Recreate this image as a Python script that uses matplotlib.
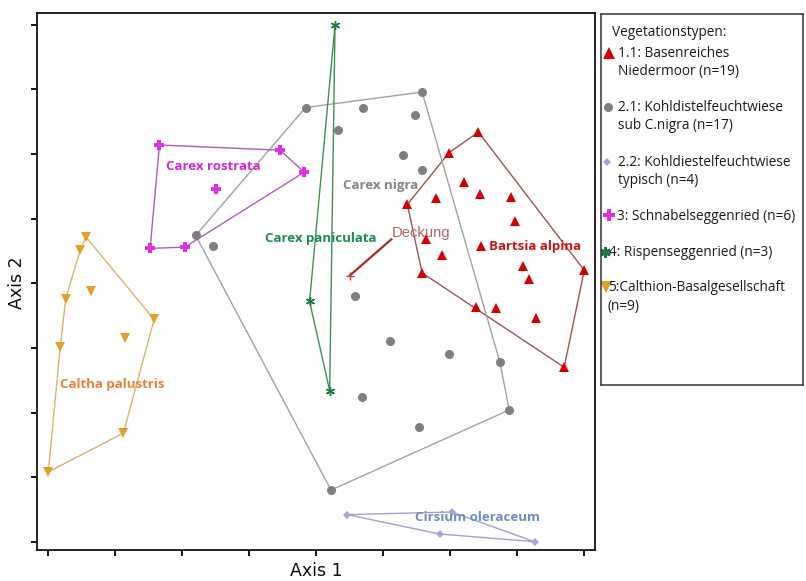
import numpy as np
import matplotlib
matplotlib.use("Agg")
import matplotlib.pyplot as plt

# Ordination scores per vegetation type (Axis 1, Axis 2)
basenreich_x = [1.21, 0.99, 1.10, 0.89, 1.22, 1.45, 0.68, 1.48, 0.82, 0.94,
                1.23, 1.54, 2.00, 1.59, 0.79, 1.19, 1.34, 1.64, 1.85]
basenreich_y = [1.17, 1.01, 0.78, 0.66, 0.69, 0.67, 0.61, 0.48, 0.34, 0.22,
                0.29, 0.13, 0.10, 0.03, 0.08, -0.18, -0.19, -0.27, -0.65]

nigra_x = [-0.08, -0.90, -0.77, 0.35, 0.79, 0.74, 0.16, 0.65, 0.79, 0.29,
           0.55, 0.99, 1.37, 0.34, 1.44, 0.77, 0.11]
nigra_y = [1.36, 0.37, 0.29, 1.36, 1.48, 1.30, 1.19, 0.99, 0.88, -0.10,
           -0.45, -0.55, -0.61, -0.88, -0.98, -1.11, -1.60]

typisch_x = [0.23, 1.01, 0.92, 1.63]
typisch_y = [-1.79, -1.77, -1.94, -2.00]

schnabel_x = [-1.17, -0.27, -0.09, -0.75, -1.24, -0.98]
schnabel_y = [1.07, 1.03, 0.86, 0.73, 0.27, 0.28]

rispen_x = [0.14, -0.05, 0.10]
rispen_y = [2.00, -0.14, -0.83]

calthion_x = [-1.72, -1.76, -1.87, -1.68, -1.21, -1.91, -1.43, -1.44, -2.00]
calthion_y = [0.36, 0.26, -0.12, -0.06, -0.28, -0.49, -0.42, -1.16, -1.46]

# Fitted environmental vector
deckung_start = (0.25, 0.06)
deckung_end = (0.56, 0.34)

legend_entries = [
    "1.1: Basenreiches\nNiedermoor (n=19)",
    "2.1: Kohldistelfeuchtwiese\nsub C.nigra (n=17)",
    "2.2: Kohldiestelfeuchtwiese\ntypisch (n=4)",
    "3: Schnabelseggenried (n=6)",
    "4: Rispenseggenried (n=3)",
    "5:Calthion-Basalgesellschaft\n(n=9)",
]
species_labels = ["Bartsia alpina", "Carex nigra", "Cirsium oleraceum",
                  "Carex rostrata", "Carex paniculata", "Caltha palustris"]


def convex_hull(xs, ys):
    pts = sorted(set(zip(xs, ys)))
    if len(pts) < 3:
        return pts

    def cross(o, a, b):
        return (a[0] - o[0]) * (b[1] - o[1]) - (a[1] - o[1]) * (b[0] - o[0])

    lower, upper = [], []
    for p in pts:
        while len(lower) >= 2 and cross(lower[-2], lower[-1], p) <= 0:
            lower.pop()
        lower.append(p)
    for p in reversed(pts):
        while len(upper) >= 2 and cross(upper[-2], upper[-1], p) <= 0:
            upper.pop()
        upper.append(p)
    hull = lower[:-1] + upper[:-1]
    return hull + [hull[0]]


groups = [
    dict(x=basenreich_x, y=basenreich_y, marker="^", ms=7.5, mc="#D40000",
         lc="#A3514E", mew=0),
    dict(x=nigra_x, y=nigra_y, marker="o", ms=6.5, mc="#7F7F7F",
         lc="#A2A2A2", mew=0),
    dict(x=typisch_x, y=typisch_y, marker="D", ms=4.5, mc="#A3A3E6",
         lc="#A0A0D4", mew=0),
    dict(x=schnabel_x, y=schnabel_y, marker="P", ms=7, mc="#E22DE2",
         lc="#B45ABC", mew=0),
    dict(x=rispen_x, y=rispen_y, marker=(6, 2, 0), ms=6.5, mc="#1B7A3B",
         lc="#3F8F55", mew=1.0),
    dict(x=calthion_x, y=calthion_y, marker="v", ms=7.5, mc="#E2A024",
         lc="#D8B46C", mew=0),
]

label_style = [
    dict(pos=(1.29, 0.26), color="#CC1414"),
    dict(pos=(0.20, 0.73), color="#858585"),
    dict(pos=(0.74, -1.84), color="#6F8CC4"),
    dict(pos=(-1.12, 0.88), color="#D626D6"),
    dict(pos=(-0.38, 0.32), color="#1E8C4E"),
    dict(pos=(-1.91, -0.81), color="#E8823A"),
]

W, H = 806, 581
fig = plt.figure(figsize=(W / 100, H / 100), dpi=100)
fig.patch.set_facecolor("white")

ax_l, ax_r, ax_t, ax_b = 37, 595, 12.7, 550
ax = fig.add_axes([ax_l / W, (H - ax_b) / H, (ax_r - ax_l) / W, (ax_b - ax_t) / H])
ax.set_xlim(-2.084, 2.080)
ax.set_ylim(-2.064, 2.094)

for g in groups:
    hull = convex_hull(g["x"], g["y"])
    hx, hy = zip(*hull)
    ax.plot(hx, hy, color=g["lc"], lw=1.0, zorder=2)
for g in groups:
    ax.plot(g["x"], g["y"], linestyle="none", marker=g["marker"],
            ms=g["ms"], color=g["mc"], mec=g["mc"], mew=g["mew"], zorder=3)

ax.plot([deckung_start[0], deckung_end[0]], [deckung_start[1], deckung_end[1]],
        color="#B02A2A", lw=1.6, zorder=4)
ax.plot([deckung_start[0]], [deckung_start[1]], marker="+", ms=6,
        color="#C04040", mew=1.0, zorder=4)
ax.text(0.56, 0.36, "Deckung", color="#B86066", fontsize=10.6,
        family="Liberation Sans", ha="left", va="baseline", zorder=5)

for name, st in zip(species_labels, label_style):
    ax.text(st["pos"][0], st["pos"][1], name, color=st["color"],
            fontsize=9.5, fontweight="bold", family="Open Sans",
            ha="left", va="baseline", zorder=5)

ax.set_xticks(np.arange(-2.0, 2.01, 0.5))
ax.set_yticks(np.arange(-2.0, 2.01, 0.5))
ax.tick_params(direction="out", length=4.5, width=1.3, labelbottom=False,
               labelleft=False, colors="black")
for s in ax.spines.values():
    s.set_linewidth(1.3)
    s.set_color("#111111")

fig.text(316 / W, 1 - 571 / H, "Axis 1", fontsize=12.5, family="DejaVu Sans",
         ha="center", va="center", color="#111111")
fig.text(17 / W, 1 - 283 / H, "Axis 2", fontsize=12.5, family="DejaVu Sans",
         ha="center", va="center", rotation=90, color="#111111")

# Legend panel, drawn in pixel coordinates of its own box
lg_l, lg_r, lg_t, lg_b = 600.7, 802.7, 14, 385
lg = fig.add_axes([lg_l / W, (H - lg_b) / H, (lg_r - lg_l) / W, (lg_b - lg_t) / H])
lg.set_xlim(lg_l, lg_r)
lg.set_ylim(lg_b, lg_t)
lg.set_xticks([])
lg.set_yticks([])
for s in lg.spines.values():
    s.set_linewidth(1.1)
    s.set_color("#333333")

lg.text(612, 36, "Vegetationstypen:", fontsize=9.8, family="Open Sans",
        ha="left", va="baseline", color="#1a1a1a")

legend_rows = [
    dict(mx=608.5, my=52.5, tx=618, base=[56.7, 75.0], ms=8),
    dict(mx=607.5, my=107, tx=618, base=[111.0, 129.3], ms=6.5),
    dict(mx=607, my=162, tx=618, base=[166.0, 183.5], ms=4.5),
    dict(mx=609, my=215, tx=617, base=[219.5], ms=8),
    dict(mx=605, my=251.5, tx=609, base=[256.0], ms=7.5),
    dict(mx=606, my=286.5, tx=608, base=[291.0, 310.0], ms=8),
]
legend_colors = ["#E00000", "#7F7F7F", "#A3A3E6", "#E22DE2", "#1B7A3B", "#E2A024"]
for g, row, entry, col in zip(groups, legend_rows, legend_entries, legend_colors):
    mew = 2.0 if g["mew"] else 0
    lg.plot([row["mx"]], [row["my"]], marker=g["marker"], ms=row["ms"],
            color=col, mec=col, mew=mew, linestyle="none")
    for line, b in zip(entry.split("\n"), row["base"]):
        lg.text(row["tx"], b, line, fontsize=9.8, family="Open Sans",
                ha="left", va="baseline", color="#1a1a1a")

fig.savefig("out.png", dpi=100, facecolor="white")
